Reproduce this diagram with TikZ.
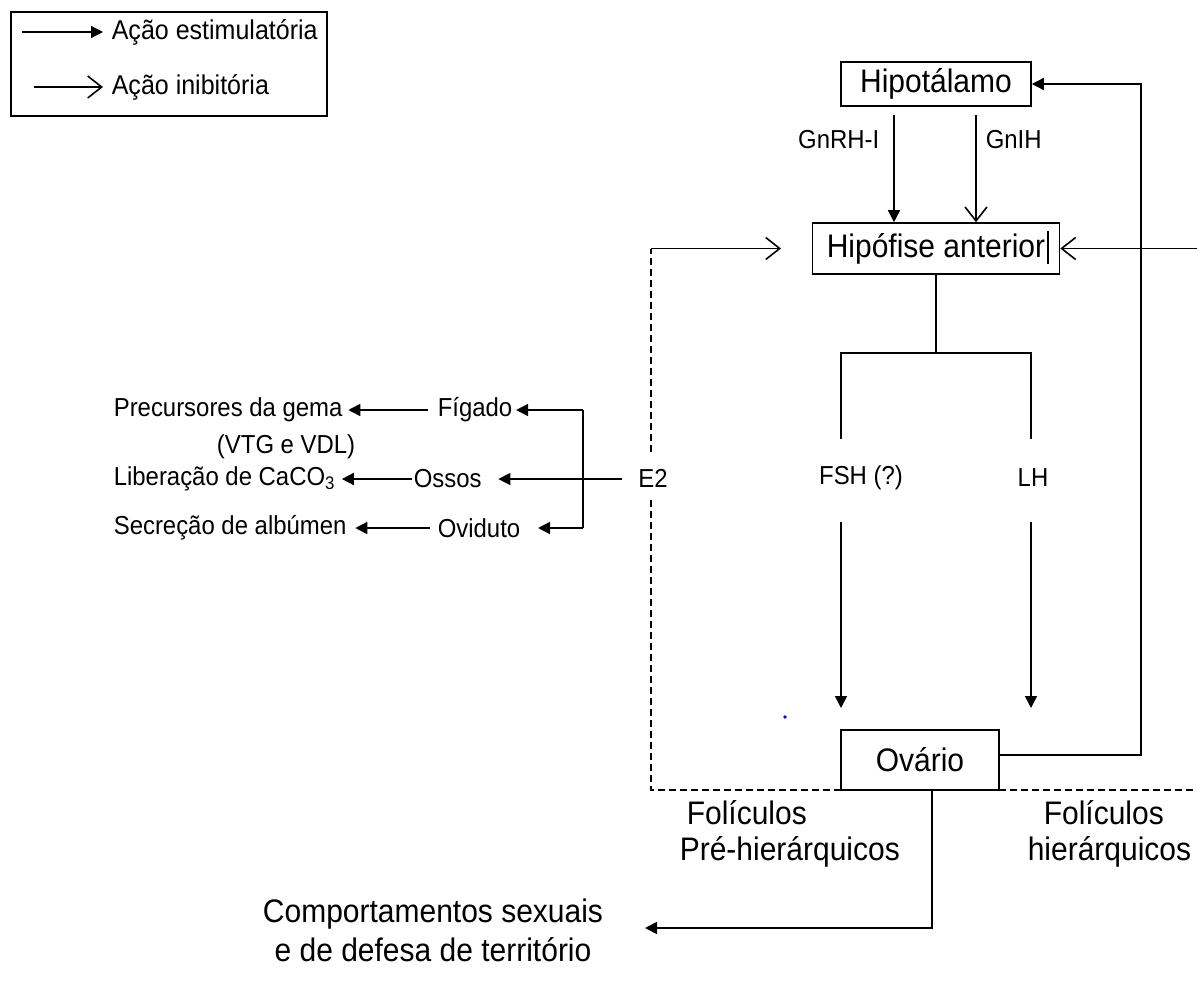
\documentclass[tikz,border=0pt]{standalone}
\usepackage{fontspec}
\setmainfont[FakeStretch=0.92]{Liberation Sans}
\usetikzlibrary{arrows.meta}
\begin{document}
\begin{tikzpicture}[x=1pt,y=-1pt,
  line width=1.6pt,
  stim/.style={-{Triangle[length=12pt,width=12pt]}},
  inhib/.style={-{Straight Barb[length=14pt,width=22pt]}},
  big/.style={font=\fontsize{32.6}{39}\selectfont, inner sep=0pt},
  small/.style={font=\fontsize{26}{31}\selectfont, inner sep=0pt},
  leg/.style={font=\fontsize{27.2}{32}\selectfont, inner sep=0pt},
  box/.style={draw, line width=1.6pt, inner sep=0pt, font=\fontsize{32.6}{39}\selectfont},
  dsh/.style={line width=1.4pt, dash pattern=on 7pt off 4pt}]
\useasboundingbox (0,0) rectangle (1197,993);

% legend
\node[draw, minimum width=316pt, minimum height=104pt] (legend) at (169,64) {};
\coordinate (l1a) at (22,32); \coordinate (l1b) at (103,32);
\coordinate (l2a) at (34,87); \coordinate (l2b) at (103,87);
\draw[stim] (l1a) -- (l1b);
\draw[inhib] (l2a) -- (l2b);
\node[leg, anchor=west] (l1t) at (111,32) {Ação estimulatória};
\node[leg, anchor=west] (l2t) at (111,87) {Ação inibitória};

% main boxes
\node[box, minimum width=190pt, minimum height=44pt] (hipo) at (936,84) {Hipotálamo};
\node[box, minimum width=247pt, minimum height=51pt] (hipof) at (936,248.5) {Hipófise anterior};
\draw[line width=1.2pt] (1048,231) -- (1048,264);
\node[box, minimum width=158pt, minimum height=60pt] (ova) at (920,760) {Ovário};

% hypothalamus -> pituitary
\node[small, anchor=east] (gnrh) at (880,140) {GnRH-I};
\node[small, anchor=west] (gnih) at (985,140) {GnIH};
\coordinate (g1) at (894,115); \coordinate (g2) at (976,115);
\draw[stim] (g1) -- (g1 |- hipof.north);
\draw[inhib] (g2) -- (g2 |- hipof.north);

% pituitary -> FSH / LH
\coordinate (bar) at (936,353);
\coordinate (fa) at (841,439); \coordinate (la) at (1031,439);
\draw (hipof.south) -- (bar);
\draw (fa) -- (fa |- bar) -- (la |- bar) -- (la);
\node[small] (fsh) at (861,478) {FSH (?)};
\node[small] (lh) at (1033,478) {LH};
\coordinate (fb) at (841,522); \coordinate (fe) at (841,708);
\coordinate (lb) at (1031,522); \coordinate (le) at (1031,708);
\draw[stim] (fb) -- (fe);
\draw[stim] (lb) -- (le);
\fill[blue] (785,717) circle (1.8pt);

% feedback from ovary
\coordinate (fbk) at (1141,84);
\draw[stim] ([yshift=5pt]ova.east) -| (fbk) -- (hipo.east);
\coordinate (redge) at (1197,248.5);
\draw[inhib] (redge) -- (hipof.east);

% E2
\node[small] (e2) at (653,478) {E2};
\coordinate (dtop) at (651,248.5); \coordinate (dm1) at (651,452);
\coordinate (ltip) at (781,248.5);
\draw[dsh] (dm1) -- (dtop);
\draw[inhib] (dtop) -- (ltip);
\coordinate (dm2) at (651,500); \coordinate (dcorner) at (651,790); \coordinate (dright) at (1197,790);
\draw[dsh] (dm2) -- (dcorner) -- (dright);

% follicles
\node[big, anchor=west] (fol1) at (686,813) {Folículos};
\node[big, anchor=west] (fol1b) at (679,852) {Pré-hierárquicos};
\node[big, anchor=west] (fol2) at (1043,813) {Folículos};
\node[big, anchor=west] (fol2b) at (1027,852) {hierárquicos};

% ovary -> behaviour
\node[big, align=center] (comp) at (433,930) {Comportamentos sexuais\\e de defesa de território};
\coordinate (os) at (932,790); \coordinate (cb) at (932,928); \coordinate (ctip) at (645,928);
\draw[stim] (os) -- (cb) -- (ctip);

% E2 targets
\node[small, anchor=west] (prec) at (113,410) {Precursores da gema};
\node[small, anchor=east] (vtg) at (356,447) {(VTG e VDL)};
\node[small, anchor=west] (lib) at (113,479) {Liberação de CaCO\textsubscript{3}};
\node[small, anchor=west] (sec) at (113,528) {Secreção de albúmen};
\node[small, anchor=west] (fig) at (437,410) {Fígado};
\node[small, anchor=west] (oss) at (413,479) {Ossos};
\node[small, anchor=west] (ovi) at (437,528) {Oviduto};

\coordinate (ftop) at (583,410); \coordinate (fbot) at (583,528);
\coordinate (e2l) at (622,479);
\draw[stim] (e2l) -- ([xshift=16pt]oss.east);
\draw[stim] (ftop) -- ([xshift=3pt]fig.east);
\draw[stim] (fbot) -- ([xshift=17pt]ovi.east);
\draw (ftop) -- (fbot);

\draw[stim] ([xshift=-9pt]fig.west) -- ([xshift=5pt]prec.east);
\draw[stim] ([xshift=-1pt]oss.west) -- ([xshift=6pt]lib.east);
\draw[stim] ([xshift=-7pt]ovi.west) -- ([xshift=8pt]sec.east);
\end{tikzpicture}
\end{document}
